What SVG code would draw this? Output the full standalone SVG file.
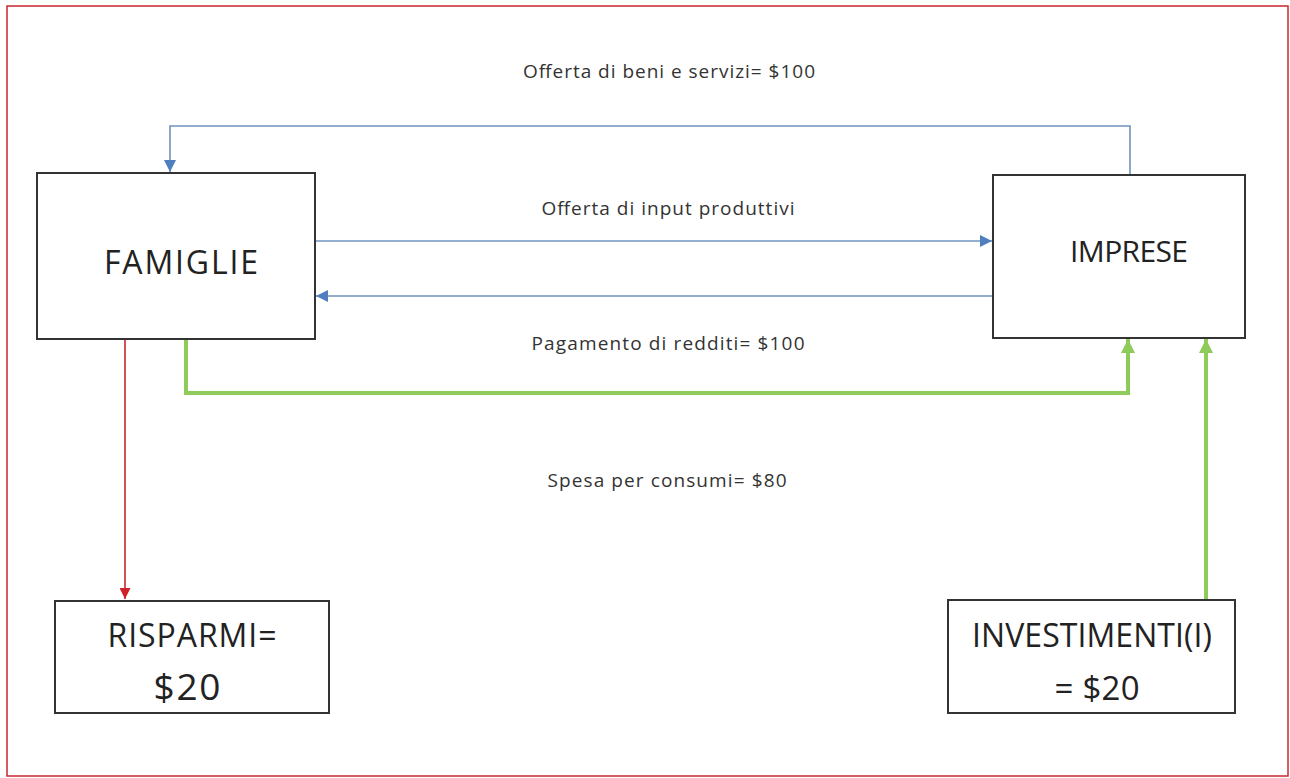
<svg xmlns="http://www.w3.org/2000/svg" width="1290" height="778" viewBox="0 0 1290 778">
<style>
.box{fill:#fff;stroke:#333;stroke-width:2}
.big{font-family:"Open Sans","Liberation Sans",sans-serif;fill:#222;text-anchor:middle}
.lbl{font-family:"Open Sans","Liberation Sans",sans-serif;font-size:19px;fill:#333;text-anchor:middle}
.blue{fill:none;stroke:#6f93bf;stroke-width:1.6}
.green{fill:none;stroke:#8fcb5a;stroke-width:4}
.red{fill:none;stroke:#c8262a;stroke-width:1.6}
</style>
<defs>
<marker id="ab" viewBox="0 0 10 10" refX="10" refY="5" markerWidth="12" markerHeight="12" markerUnits="userSpaceOnUse" orient="auto"><path d="M0,0 L10,5 L0,10 z" fill="#4f7fbf"/></marker>
<marker id="ag" viewBox="0 0 10 10" refX="10" refY="5" markerWidth="14" markerHeight="14" markerUnits="userSpaceOnUse" orient="auto"><path d="M0,0 L10,5 L0,10 z" fill="#8fcb5a"/></marker>
<marker id="ar" viewBox="0 0 10 10" refX="10" refY="5" markerWidth="11" markerHeight="11" markerUnits="userSpaceOnUse" orient="auto"><path d="M0,0 L10,5 L0,10 z" fill="#d0202a"/></marker>
</defs>
<rect x="0" y="0" width="1290" height="778" fill="#fff"/>
<rect x="7" y="6" width="1281" height="770" fill="none" stroke="#c8282e" stroke-width="1.5"/>
<g id="connectors">
<path class="blue" d="M1130,175 V126 H170 V172" marker-end="url(#ab)"/>
<path class="blue" d="M315,241 H992" marker-end="url(#ab)"/>
<path class="blue" d="M993,296 H316" marker-end="url(#ab)"/>
<path class="green" d="M186,339 V393 H1128 V339" marker-end="url(#ag)"/>
<path class="green" d="M1206,600 V339" marker-end="url(#ag)"/>
<path class="red" d="M125,339 V599" marker-end="url(#ar)"/>
</g>
<g id="labels">
<text class="lbl" x="669" y="78" textLength="292">Offerta di beni e servizi= $100</text>
<text class="lbl" x="668" y="215" textLength="253">Offerta di input produttivi</text>
<text class="lbl" x="668" y="350" textLength="273">Pagamento  di redditi= $100</text>
<text class="lbl" x="667" y="487" textLength="239">Spesa per consumi= $80</text>
</g>
<g id="famiglie">
<rect class="box" x="37" y="173" width="278" height="166"/>
<text class="big" x="181" y="274" font-size="32" textLength="154">FAMIGLIE</text>
</g>
<g id="imprese">
<rect class="box" x="993" y="175" width="252" height="163"/>
<text class="big" x="1129" y="262" font-size="30" textLength="118">IMPRESE</text>
</g>
<g id="risparmi">
<rect class="box" x="55" y="601" width="274" height="112"/>
<text class="big" x="192" y="647" font-size="32" textLength="169">RISPARMI=</text>
<text class="big" x="187" y="700" font-size="37" textLength="67">$20</text>
</g>
<g id="investimenti">
<rect class="box" x="948" y="600" width="287" height="113"/>
<text class="big" x="1092" y="647" font-size="32" textLength="240">INVESTIMENTI(I)</text>
<text class="big" x="1097" y="700" font-size="33" textLength="85">= $20</text>
</g>
</svg>
